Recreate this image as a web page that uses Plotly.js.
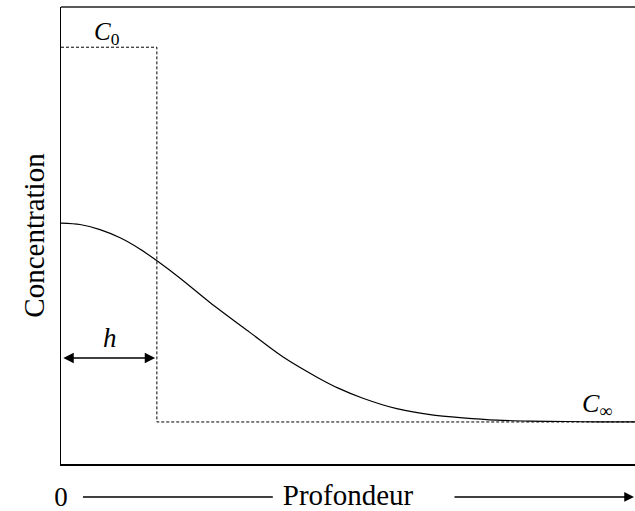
<!DOCTYPE html>
<html>
<head>
<meta charset="utf-8">
<script src="https://cdn.plot.ly/plotly-3.0.1.min.js"></script>
<style>html,body{margin:0;padding:0;background:#fff;}</style>
</head>
<body>
<div id="chart" style="width:635px;height:511px;"></div>
<script>
// Depth (arbitrary units, 0..100) and concentration (arbitrary units, 0..100)
const stepDepth = [0, 16.7, 16.7, 100];
const stepConc = [91.2, 91.2, 9.2, 9.2];

const profileDepth = [0, 3.3, 6.8, 10.3, 13.8, 16.9, 20.7, 26.0, 32.9, 38.7, 44.6, 48.3, 52.6, 58.5, 64.3, 70.0, 76.0, 81.7, 88.0, 93.9, 100];
const profileConc = [52.7, 52.4, 51.3, 49.5, 47.0, 44.3, 40.7, 35.3, 28.8, 23.4, 19.0, 16.6, 14.4, 12.1, 10.8, 10.1, 9.6, 9.4, 9.3, 9.2, 9.2];

const xTickVals = [0];
const xTickText = ['0'];

const serif = 'Times New Roman, Liberation Serif, Times, serif';

const traces = [
  {x: stepDepth, y: stepConc, mode: 'lines', type: 'scatter',
   line: {color: '#000', width: 1, dash: '3px,2px'}, hoverinfo: 'skip'},
  {x: profileDepth, y: profileConc, mode: 'lines', type: 'scatter',
   line: {color: '#000', width: 1.2, shape: 'spline', smoothing: 0.8}, hoverinfo: 'skip'}
];

const layout = {
  width: 635, height: 511,
  margin: {l: 61, r: 0, t: 7, b: 47},
  paper_bgcolor: '#fff', plot_bgcolor: '#fff',
  showlegend: false,
  font: {family: serif, color: '#000', size: 27},
  xaxis: {
    range: [0, 100], showgrid: false, zeroline: false,
    showline: true, linecolor: '#000', linewidth: 1.5,
    tickvals: xTickVals, ticktext: xTickText, ticks: '',
    ticklabelstandoff: 8,
    tickfont: {family: serif, size: 27, color: '#000'},
    title: {text: 'Profondeur', font: {family: serif, size: 29, color: '#000'}, standoff: 0}
  },
  yaxis: {
    range: [0, 100], showgrid: false, zeroline: false,
    showline: true, linecolor: '#000', linewidth: 1.5,
    showticklabels: false, ticks: '',
    title: {text: 'Concentration', font: {family: serif, size: 29, color: '#000'}, standoff: 6}
  },
  shapes: [
    {type: 'line', xref: 'paper', yref: 'paper', x0: 0, x1: 1, y0: 1, y1: 1,
     line: {color: '#222', width: 1.5}},
    {type: 'line', xref: 'paper', yref: 'paper', x0: 0.0383, x1: 0.369, y0: -0.0722, y1: -0.0722,
     line: {color: '#000', width: 1.5}}
  ],
  annotations: [
    {x: 8.0, y: 94.3, xref: 'x', yref: 'y', text: '<i>C</i><sub>0</sub>', showarrow: false,
     font: {family: serif, size: 25, color: '#000'}},
    {x: 93.4, y: 12.9, xref: 'x', yref: 'y', text: '<i>C</i><sub>∞</sub>', showarrow: false,
     font: {family: serif, size: 26, color: '#000'}},
    {x: 8.5, y: 27.5, xref: 'x', yref: 'y', text: '<i>h</i>', showarrow: false,
     font: {family: serif, size: 27, color: '#000'}},
    {x: 16.4, y: 23.2, xref: 'x', yref: 'y', ax: 0.15, ay: 23.2, axref: 'x', ayref: 'y',
     text: '', showarrow: true, arrowside: 'end+start', arrowhead: 2, arrowsize: 1.3,
     arrowwidth: 1.6, arrowcolor: '#000', standoff: 0, startstandoff: 0},
    {x: 1.0, y: -0.0722, xref: 'paper', yref: 'paper', ax: -182, ay: 0,
     text: '', showarrow: true, arrowhead: 2, arrowsize: 1.3, arrowwidth: 1.5,
     arrowcolor: '#000', standoff: 0}
  ]
};

Plotly.newPlot('chart', traces, layout, {displayModeBar: false, staticPlot: true});
</script>
</body>
</html>
